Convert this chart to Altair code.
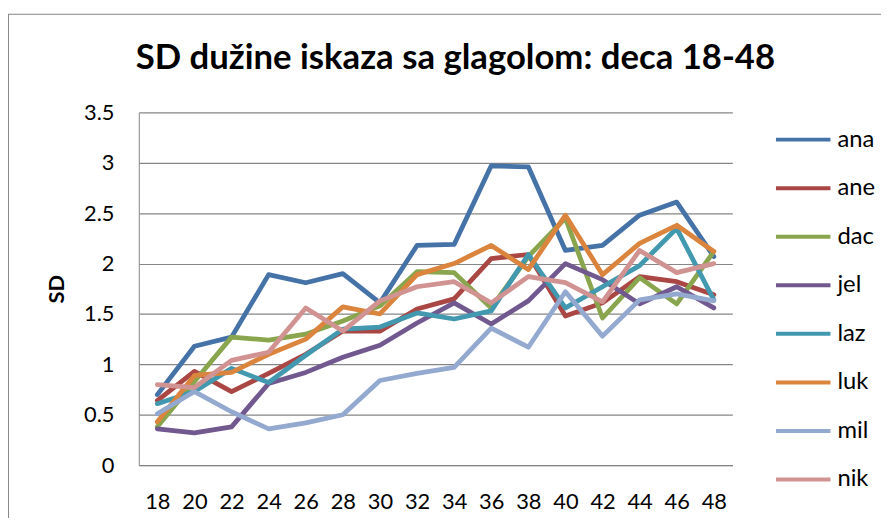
import altair as alt
import pandas as pd

ages = ["18", "20", "22", "24", "26", "28", "30", "32", "34", "36", "38", "40", "42", "44", "46", "48"]
names = ["ana", "ane", "dac", "jel", "laz", "luk", "mil", "nik"]
colors = ["#4572A7", "#AA4643", "#89A54E", "#71588F", "#4198AF", "#DB843D", "#93A9CF", "#D19392"]

ana = [0.70, 1.18, 1.27, 1.89, 1.81, 1.90, 1.61, 2.18, 2.19, 2.97, 2.96, 2.13, 2.18, 2.48, 2.61, 2.07]
ane = [0.64, 0.93, 0.73, 0.91, 1.10, 1.33, 1.33, 1.55, 1.65, 2.05, 2.09, 1.48, 1.61, 1.87, 1.82, 1.69]
dac = [0.38, 0.83, 1.27, 1.24, 1.30, 1.43, 1.58, 1.92, 1.91, 1.56, 2.07, 2.45, 1.46, 1.86, 1.60, 2.12]
jel = [0.36, 0.32, 0.38, 0.81, 0.92, 1.07, 1.19, 1.41, 1.61, 1.40, 1.63, 2.00, 1.84, 1.60, 1.77, 1.56]
laz = [0.61, 0.73, 0.96, 0.82, 1.09, 1.35, 1.37, 1.51, 1.45, 1.53, 2.09, 1.56, 1.77, 1.98, 2.35, 1.64]
luk = [0.43, 0.89, 0.92, 1.10, 1.25, 1.57, 1.50, 1.89, 2.00, 2.18, 1.94, 2.48, 1.89, 2.20, 2.38, 2.12]
mil = [0.51, 0.73, 0.53, 0.36, 0.42, 0.50, 0.84, 0.91, 0.97, 1.36, 1.17, 1.72, 1.28, 1.64, 1.70, 1.63]
nik = [0.80, 0.77, 1.04, 1.12, 1.56, 1.33, 1.63, 1.77, 1.82, 1.61, 1.87, 1.81, 1.62, 2.13, 1.91, 2.00]

series = [ana, ane, dac, jel, laz, luk, mil, nik]
rows = []
for name, vals in zip(names, series):
    for a, v in zip(ages, vals):
        rows.append({"age": a, "child": name, "sd": v})
df = pd.DataFrame(rows)

FONT = "Lato"
W, H = 599, 356

lines = alt.Chart(df).mark_line(strokeWidth=4.8, strokeCap="round", strokeJoin="round").encode(
    x=alt.X("age:O", sort=ages, title=None,
            axis=alt.Axis(labelAngle=0, labelFontSize=22, labelPadding=27, tickSize=0,
                          domainColor="#868686", grid=False, labelColor="#000")),
    y=alt.Y("sd:Q", scale=alt.Scale(domain=[0, 3.5], nice=False), title="SD",
            axis=alt.Axis(values=[0, 0.5, 1, 1.5, 2, 2.5, 3, 3.5], format=".1~f",
                          labelFontSize=22, labelPadding=25, tickSize=0,
                          domainColor="#868686", gridColor="#868686", gridWidth=1.2,
                          labelColor="#000", titleFontSize=22, titleFontWeight="bold",
                          titleColor="#000", titleX=-83, titleBaseline="middle")),
    color=alt.Color("child:N", scale=alt.Scale(domain=names, range=colors), title=None,
                    legend=alt.Legend(orient="none", legendX=641, legendY=-2,
                                      symbolType="stroke", symbolSize=3025, symbolStrokeWidth=4,
                                      labelFontSize=24, labelOffset=5, rowPadding=7,
                                      labelColor="#000")),
)

border = alt.Chart(pd.DataFrame({"k": [0]})).mark_rule(color="#868686", strokeWidth=1).encode(
    x=alt.value(-133), x2=alt.value(760), y=alt.value(-99)
)
border_left = alt.Chart(pd.DataFrame({"k": [0]})).mark_rule(color="#868686", strokeWidth=1).encode(
    x=alt.value(-131.5), y=alt.value(-99), y2=alt.value(420)
)

chart = alt.layer(lines, border, border_left).properties(
    width=W, height=H,
    autosize=alt.AutoSizeParams(type="none"),
    padding={"left": 132, "top": 103, "right": 150, "bottom": 51},
    title=alt.Title("SD dužine iskaza sa glagolom: deca 18-48", fontSize=35, fontWeight="bold",
                    font=FONT, color="#000", anchor="middle", dx=20, offset=-91,
                    baseline="alphabetic"),
).configure(font=FONT).configure_view(stroke=None).configure_axis(labelFont=FONT, titleFont=FONT)

chart.save("out.html", embed_options={"renderer": "svg", "actions": False})
